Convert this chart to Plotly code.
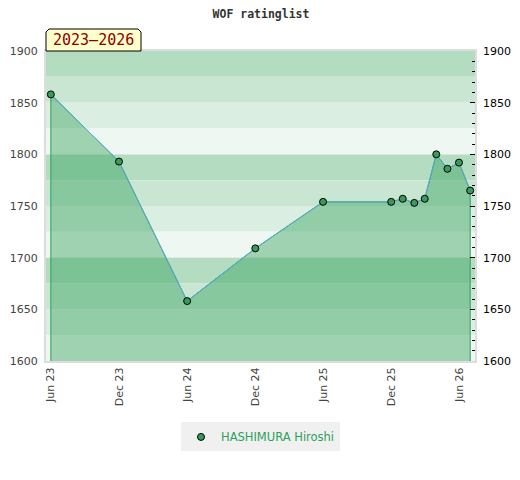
import plotly.graph_objects as go

# rating history
dates = ['2023-06-01', '2023-12-01', '2024-06-01', '2024-12-01', '2025-06-01',
         '2025-12-01', '2026-01-01', '2026-02-01', '2026-03-01', '2026-04-01',
         '2026-05-01', '2026-06-01', '2026-07-01']
ratings = [1858, 1793, 1658, 1709, 1754, 1754, 1757, 1753, 1757, 1800, 1786, 1792, 1765]
player = 'HASHIMURA Hiroshi'
period = '2023–2026'

tick_dates = ['2023-06-01', '2023-12-01', '2024-06-01', '2024-12-01',
              '2025-06-01', '2025-12-01', '2026-06-01']
y_min, y_max = 1600, 1900
band_colors = ['#b3dcc1', '#c8e6d2', '#dbeee2', '#eef7f1']

fig = go.Figure()

# filled area down to the axis floor
fig.add_scatter(x=[dates[0]] + dates + [dates[-1]],
                y=[y_min] + ratings + [y_min],
                fill='toself', fillcolor='rgba(40,155,80,0.40)',
                line={'color': '#2ca05a', 'width': 1}, mode='lines',
                hoverinfo='skip', showlegend=False)

fig.add_scatter(x=dates, y=ratings, mode='lines',
                line={'color': '#5da5da', 'width': 1},
                hoverinfo='skip', showlegend=False)
fig.add_scatter(x=dates, y=ratings, mode='markers', name=player,
                marker={'color': '#3a9a5c', 'size': 7,
                        'line': {'color': 'black', 'width': 1}})

# horizontal bands every 25 points
shapes = []
for i, lo in enumerate(range(y_max - 25, y_min - 1, -25)):
    shapes.append(dict(type='rect', xref='paper', yref='y', x0=0, x1=1,
                       y0=lo, y1=lo + 25, layer='below', line={'width': 0},
                       fillcolor=band_colors[i % 4]))

# period tag above the top-left corner, chamfered top corners
bw, bh, ch = 95 / 429, 22 / 310, 3
cx, cy = ch / 429, ch / 310
shapes.append(dict(type='path', xref='paper', yref='paper',
                   path=(f'M 0,1 L 0,{1 + bh - cy} L {cx},{1 + bh} '
                         f'L {bw - cx},{1 + bh} L {bw},{1 + bh - cy} L {bw},1 Z'),
                   fillcolor='#ffffcc', line={'color': 'black', 'width': 1},
                   layer='above'))

fig.update_layout(
    width=520, height=480,
    margin=dict(l=38, r=53, t=43, b=127),
    paper_bgcolor='white', plot_bgcolor='white',
    shapes=shapes,
    title=dict(text='<b>WOF ratinglist</b>', x=(260 - 7) / 520, xanchor='center',
               y=1 - 6 / 480, yanchor='middle',
               font=dict(family='DejaVu Sans Mono', size=11.5, color='#333')),
    xaxis=dict(range=['2023-05-19', '2026-07-14'], tickvals=tick_dates,
               tickformat='%b %y', tickangle=-90, showgrid=False,
               automargin=False,
               showline=True, linecolor='#dddddd', linewidth=2, mirror=True,
               tickfont=dict(family='DejaVu Sans', size=11, color='#444')),
    yaxis=dict(range=[y_min, y_max], dtick=50, showgrid=True,
               gridcolor='rgba(230,230,230,0.6)', zeroline=False,
               automargin=False, ticklabelstandoff=4,
               showline=True, linecolor='#dddddd', linewidth=2, mirror=True,
               tickfont=dict(family='DejaVu Sans', size=11, color='#444')),
    yaxis2=dict(range=[y_min, y_max], dtick=50, overlaying='y', side='right',
                showgrid=False, zeroline=False, ticks='inside', ticklen=5,
                tickcolor='black', automargin=False, ticklabelstandoff=7,
                minor=dict(dtick=10, ticks='inside', ticklen=3, tickcolor='black'),
                tickfont=dict(family='DejaVu Sans', size=11, color='black')),
    legend=dict(orientation='h', x=0.5, xanchor='center', y=-0.245,
                yanchor='middle', bgcolor='#f0f0f0',
                font=dict(family='DejaVu Sans', size=11.5, color='#2ca05a')),
    annotations=[dict(text=period, xref='paper', yref='paper', x=bw / 2,
                      y=1 + bh / 2, xanchor='center', yanchor='middle',
                      showarrow=False,
                      font=dict(family='DejaVu Sans Mono', size=15, color='#8b0000'))],
)

# invisible trace so the right-hand axis is drawn
fig.add_scatter(x=[dates[0]], y=[ratings[0]], yaxis='y2', mode='markers',
                marker={'opacity': 0}, hoverinfo='skip', showlegend=False)

fig.write_html('out.html')
